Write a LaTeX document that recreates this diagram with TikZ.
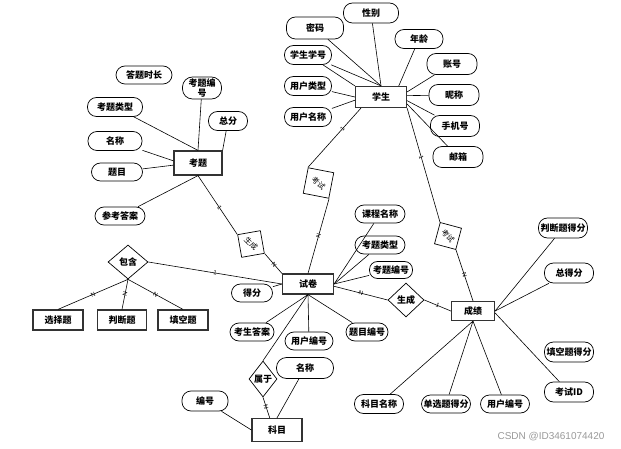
\documentclass[tikz,border=0pt]{standalone}
\usepackage{fontspec}
\setmainfont{Liberation Sans}
\newfontfamily\cjk{Noto Sans CJK SC}
\usetikzlibrary{shapes.geometric}
\begin{document}
\begin{tikzpicture}[x=1pt,y=-1pt,
  txt/.style={font=\cjk\bfseries\fontsize{9}{10}\selectfont},
  ent/.style={txt, draw=black!80, line width=1.2pt, rectangle, inner sep=0pt},
  attr/.style={txt, draw, line width=0.7pt, rectangle, rounded corners=9pt, inner sep=0pt, minimum height=19pt},
  rel/.style={txt, draw, diamond, line width=0.7pt, inner sep=0pt},
  relr/.style={font=\cjk\fontsize{7.5}{8}\selectfont, draw, rectangle, line width=0.7pt, inner sep=0pt},
  link/.style={line width=0.6pt},
  card/.style={font=\fontsize{6}{6}\selectfont, sloped, inner sep=0.5pt}
]
\useasboundingbox (0,0) rectangle (621,449);

% ---------------- 学生 ----------------
\node[ent, minimum width=51pt, minimum height=21pt] (stu) at (381,97) {学生};
\node[attr, minimum width=57pt, minimum height=22pt] (mima) at (315,28) {密码};
\node[attr, minimum width=55pt, minimum height=20pt] (xingbie) at (371,13) {性别};
\node[attr, minimum width=48pt] (nianling) at (419,39) {年龄};
\node[attr, minimum width=47pt] (xuehao) at (308,55) {学生学号};
\node[attr, minimum width=47pt] (yhlx) at (308,86) {用户类型};
\node[attr, minimum width=47pt] (yhmc) at (308,117) {用户名称};
\node[attr, minimum width=50pt, minimum height=21pt] (zhanghao) at (452,64) {账号};
\node[attr, minimum width=50pt, minimum height=21pt] (nicheng) at (454,95) {昵称};
\node[attr, minimum width=49pt, minimum height=21pt] (shouji) at (455,126) {手机号};
\node[attr, minimum width=50pt, minimum height=21pt] (youxiang) at (458,157) {邮箱};

\draw[link] (mima) -- (stu.north);
\draw[link] (xingbie) -- (stu.north);
\draw[link] (xuehao) -- (stu.north);
\draw[link] (xuehao) -- (stu.north west);
\draw[link] (yhlx) -- (stu.west);
\draw[link] (yhmc) -- (stu.187);
\draw[link] (nianling) -- (stu.32);
\draw[link] (zhanghao) -- (stu.11);
\draw[link] (nicheng) -- (stu.3);
\draw[link] (shouji) -- (stu.-8);
\draw[link] (youxiang) -- (stu.-15);

% ---------------- 考试 relations ----------------
\node[relr, minimum size=26pt, rotate=-11] (ks1) at (318.5,183) {\rotatebox{-30}{考试}};
\node[relr, minimum size=22pt, rotate=-15] (ks2) at (448,236) {\rotatebox{-35}{考试}};

% ---------------- 考题 ----------------
\node[ent, minimum width=48pt, minimum height=24pt] (kaoti) at (198,163) {考题};
\node[attr, minimum width=56pt, minimum height=18pt] (dtsc) at (144,75) {答题时长};
\node[attr, minimum width=39pt, minimum height=22pt, align=center, font=\cjk\bfseries\fontsize{9}{9.5}\selectfont, rounded corners=10pt] (ktbh) at (202,88) {考题编\\号};
\node[attr, minimum width=55pt] (ktlx) at (115,107) {考题类型};
\node[attr, minimum width=39pt] (zongfen) at (228,121) {总分};
\node[attr, minimum width=54pt] (mingcheng) at (115,141) {名称};
\node[attr, minimum width=51pt, minimum height=18pt] (timu) at (117,172) {题目};
\node[attr, minimum width=50pt, minimum height=18pt] (ckda) at (120,216) {参考答案};

\draw[link] (ktbh) -- (kaoti.north);
\draw[link] (ktlx) -- (kaoti.north);
\draw[link] (zongfen) -- (kaoti.north east);
\draw[link] (mingcheng) -- (kaoti.175);
\draw[link] (timu) -- (kaoti.185);
\draw[link] (ckda) -- (kaoti.south);

\node[relr, minimum size=23pt, rotate=10] (sc1) at (251,244) {\rotatebox{-55}{生成}};

% ---------------- 包含 ----------------
\node[rel, minimum width=40pt, minimum height=34pt] (baohan) at (128,262) {包含};
\node[ent, minimum width=50pt, minimum height=20pt] (xuanze) at (58,320) {选择题};
\node[ent, minimum width=49pt, minimum height=20pt] (panduan) at (122,320) {判断题};
\node[ent, minimum width=50pt, minimum height=20pt] (tiankong) at (183,320) {填空题};

% ---------------- 试卷 ----------------
\node[ent, minimum width=51pt, minimum height=20pt] (shijuan) at (308,284) {试卷};
\node[attr, minimum width=50pt, minimum height=18pt] (kcmc) at (380,214) {课程名称};
\node[attr, minimum width=50pt, minimum height=18pt] (ktlx2) at (380,245) {考题类型};
\node[attr, minimum width=43pt, minimum height=17pt, rounded corners=8pt] (ktbh2) at (391,270) {考题编号};
\node[attr, minimum width=41pt, minimum height=18pt] (defen) at (252,293) {得分};
\node[attr, minimum width=44pt, minimum height=18pt] (kska) at (252,332) {考生答案};
\node[attr, minimum width=48pt, minimum height=18pt] (yhbh) at (309,341) {用户编号};
\node[attr, minimum width=42pt, minimum height=18pt] (tmbh) at (367,332) {题目编号};

\draw[link] (kcmc) -- (shijuan.east);
\draw[link] (ktlx2) -- (shijuan.east);
\draw[link] (ktbh2) -- (shijuan.east);
\draw[link] (defen) -- (shijuan.west);
\draw[link] (kska) -- (shijuan.south);
\draw[link] (yhbh) -- (shijuan.south);
\draw[link] (tmbh) -- (shijuan.south);

\node[rel, minimum width=36pt, minimum height=34pt] (sc2) at (406,300) {生成};
\node[rel, minimum width=28pt, minimum height=36pt] (shuyu) at (263,379) {属于};

% ---------------- 科目 ----------------
\node[ent, minimum width=50pt, minimum height=23pt] (kemu) at (277,430) {科目};
\node[attr, minimum width=46pt, minimum height=20pt] (bianhao) at (205,401) {编号};
\node[attr, minimum width=57pt, minimum height=21pt, rounded corners=10pt] (mc2) at (305,368) {名称};
\draw[link] (bianhao) -- (kemu.west);
\draw[link] (mc2) -- (kemu.north);

% ---------------- 成绩 ----------------
\node[ent, minimum width=43pt, minimum height=19pt] (chengji) at (473,311) {成绩};
\node[attr, minimum width=49pt, minimum height=20pt] (pdtdf) at (563,228) {判断题得分};
\node[attr, minimum width=49pt, minimum height=20pt] (zdf) at (569,273) {总得分};
\node[attr, minimum width=49pt, minimum height=20pt] (tktdf) at (569,352) {填空题得分};
\node[attr, minimum width=49pt, minimum height=20pt] (ksid) at (569,392) {考试ID};
\node[attr, minimum width=49pt, minimum height=18pt] (yhbh2) at (505,404) {用户编号};
\node[attr, minimum width=49pt, minimum height=18pt] (dxtdf) at (446,404) {单选题得分};
\node[attr, minimum width=49pt, minimum height=19pt] (kmmc) at (379,404) {科目名称};

\draw[link] (pdtdf) -- (chengji.east);
\draw[link] (zdf) -- (chengji.east);
\draw[link] (ksid) -- (chengji.-5);
\draw[link] (yhbh2) -- (chengji.south);
\draw[link] (dxtdf) -- (chengji.south);
\draw[link] (kmmc) -- (chengji.south);

% ---------------- relationship connectors ----------------
\draw[link] (stu.209) -- node[card, pos=0.35] {1} (ks1.north west);
\draw[link] (ks1.south east) -- node[card, pos=0.5] {N} (shijuan.north);
\draw[link] (stu.south east) -- node[card, pos=0.43] {1} (ks2.north west);
\draw[link] (ks2.south east) -- node[card, pos=0.5] {N} (chengji.north);
\draw[link] (kaoti.south) -- node[card, pos=0.55] {1} (sc1.north west);
\draw[link] (sc1.south east) -- node[card, pos=0.55] {N} (shijuan.north west);
\draw[link] (baohan.east) -- node[card, pos=0.5] {1} (shijuan.west);
\draw[link] (baohan.south) -- node[card, pos=0.5] {N} (xuanze.north);
\draw[link] (baohan.south) -- node[card, pos=0.5] {N} (panduan.north);
\draw[link] (baohan.south) -- node[card, pos=0.5] {N} (tiankong.north);
\draw[link] (shijuan.-5) -- node[card, pos=0.5] {N} (sc2.west);
\draw[link] (sc2.east) -- node[card, pos=0.5] {1} (chengji.west);
\draw[link] (shijuan.south) -- (shuyu.north);
\draw[link] (shuyu.south) -- node[card, pos=0.45] {N} (kemu.121);

% watermark
\node[font=\fontsize{10}{10}\selectfont, text=black!40, inner sep=0pt] (wm) at (551,437) {CSDN @ID3461074420};
\end{tikzpicture}
\end{document}
